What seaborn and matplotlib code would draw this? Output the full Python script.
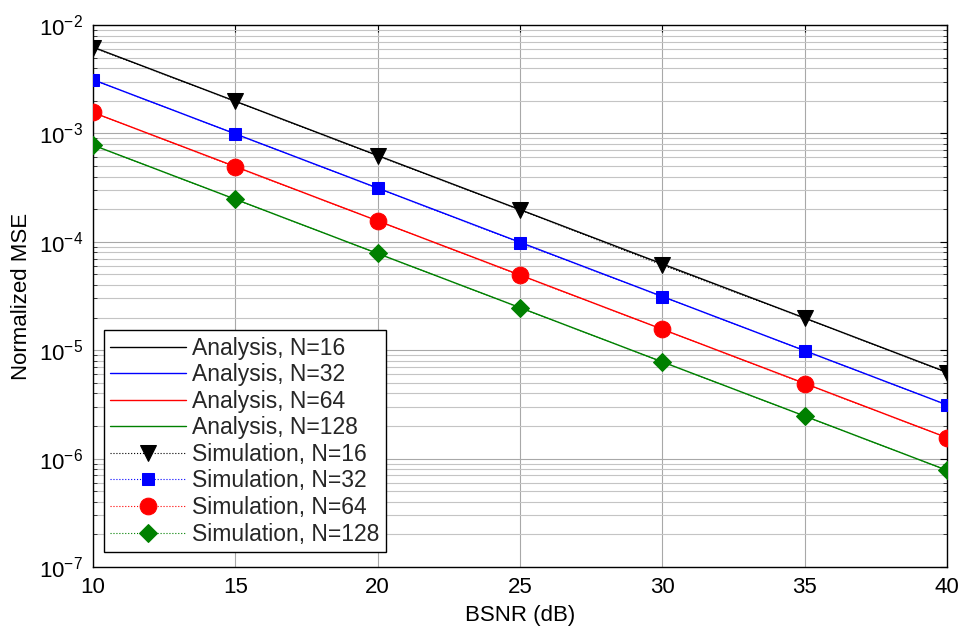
import numpy as np
import pandas as pd
import matplotlib
matplotlib.use("Agg")
import matplotlib.pyplot as plt
import seaborn as sns
from matplotlib.ticker import LogLocator, NullFormatter

sns.set_theme(style="white")
plt.rcParams['font.family'] = ['Liberation Sans', 'DejaVu Sans']
plt.rcParams['mathtext.fontset'] = 'custom'
plt.rcParams['mathtext.rm'] = 'Liberation Sans'
plt.rcParams['mathtext.it'] = 'Liberation Sans'

bsnr = [10, 15, 20, 25, 30, 35, 40]
ana_16 = [6.25e-3, 1.98e-3, 6.25e-4, 1.98e-4, 6.25e-5, 1.98e-5, 6.25e-6]
ana_32 = [3.13e-3, 9.9e-4, 3.13e-4, 9.9e-5, 3.13e-5, 9.9e-6, 3.13e-6]
ana_64 = [1.56e-3, 4.94e-4, 1.56e-4, 4.94e-5, 1.56e-5, 4.94e-6, 1.56e-6]
ana_128 = [7.8e-4, 2.47e-4, 7.8e-5, 2.47e-5, 7.8e-6, 2.47e-6, 7.8e-7]
sim_16 = [6.2e-3, 1.97e-3, 6.2e-4, 1.97e-4, 6.1e-5, 1.97e-5, 6.2e-6]
sim_32 = [3.12e-3, 9.9e-4, 3.12e-4, 9.8e-5, 3.12e-5, 9.9e-6, 3.12e-6]
sim_64 = [1.56e-3, 4.9e-4, 1.56e-4, 4.9e-5, 1.56e-5, 4.9e-6, 1.56e-6]
sim_128 = [7.8e-4, 2.46e-4, 7.8e-5, 2.46e-5, 7.8e-6, 2.46e-6, 7.8e-7]
n_labels = ["16", "32", "64", "128"]
colors = ["black", "blue", "red", "green"]
markers = ["v", "s", "o", "D"]
msizes = [12, 9, 12, 9]

fig = plt.figure(figsize=(9.62, 6.33), dpi=100)
ax = fig.add_axes([93 / 962, 1 - 567 / 633, (947 - 93) / 962, (567 - 25) / 633])

ana = [ana_16, ana_32, ana_64, ana_128]
sim = [sim_16, sim_32, sim_64, sim_128]

for vals, n, c in zip(ana, n_labels, colors):
    df = pd.DataFrame({"x": bsnr, "y": vals})
    sns.lineplot(data=df, x="x", y="y", ax=ax, color=c, linewidth=1.0,
                 label=f"Analysis, N={n}", zorder=3)
for vals, n, c, m, ms in zip(sim, n_labels, colors, markers, msizes):
    df = pd.DataFrame({"x": bsnr, "y": vals})
    sns.lineplot(data=df, x="x", y="y", ax=ax, color=c, linewidth=0.8,
                 linestyle=":", marker=m, markersize=ms, markeredgecolor=c,
                 markerfacecolor=c, label=f"Simulation, N={n}", zorder=4)

ax.set_yscale("log")
ax.set_xlim(10, 40)
ax.set_ylim(1e-7, 1e-2)
ax.set_xticks([10, 15, 20, 25, 30, 35, 40])
ax.set_yticks([1e-7, 1e-6, 1e-5, 1e-4, 1e-3, 1e-2])
ax.set_yticklabels([r"$10^{-7}$", r"$10^{-6}$", r"$10^{-5}$", r"$10^{-4}$",
                    r"$10^{-3}$", r"$10^{-2}$"])
ax.yaxis.set_minor_locator(LogLocator(base=10, subs=np.arange(2, 10), numticks=20))
ax.yaxis.set_minor_formatter(NullFormatter())

ax.grid(True, which="major", axis="both", color="#a8a8a8", linewidth=0.8)
ax.grid(True, which="minor", axis="y", color="#c4c4c4", linewidth=0.8)
ax.set_axisbelow(True)

for s in ax.spines.values():
    s.set_visible(True)
    s.set_color("black")
    s.set_linewidth(1.0)

ax.tick_params(axis="both", which="major", direction="in", length=5, width=0.8,
               labelsize=16, colors="black", top=True, right=True, pad=7)
ax.tick_params(axis="y", which="minor", direction="in", length=3, width=0.6,
               left=True, right=True)
ax.set_xlabel("BSNR (dB)", fontsize=16, color="black", labelpad=5)
ax.set_ylabel("Normalized MSE", fontsize=16, color="black", labelpad=5)

leg = ax.legend(loc="lower left", bbox_to_anchor=(11 / 854, 15 / 542), fontsize=16.5,
                frameon=True, fancybox=False, edgecolor="black",
                handlelength=3.3, borderpad=0.28, labelspacing=0.155,
                handletextpad=0.26, borderaxespad=0.0)
leg.get_frame().set_linewidth(1.0)
leg.get_frame().set_facecolor("white")
leg.get_frame().set_alpha(1.0)

fig.savefig("out.png", dpi=100)
